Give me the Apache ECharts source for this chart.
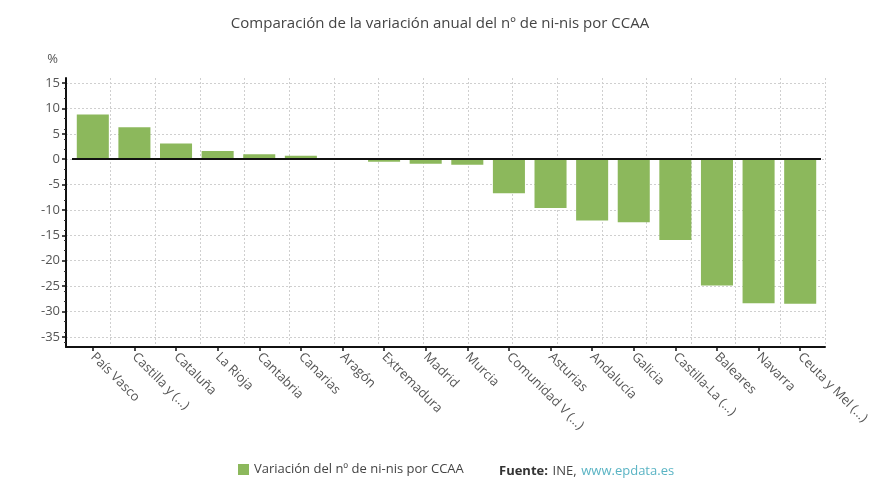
<!DOCTYPE html>
<html><head><meta charset="utf-8">
<script src="https://cdn.jsdelivr.net/npm/echarts@6/dist/echarts.min.js"></script>
<style>html,body{margin:0;padding:0;background:#fff}#c{width:880px;height:495px}</style>
</head><body><div id="c"></div>
<script>
const categories = ['País Vasco','Castilla y (...)','Cataluña','La Rioja','Cantabria','Canarias','Aragón','Extremadura','Madrid','Murcia','Comunidad V (...)','Asturias','Andalucía','Galicia','Castilla-La (...)','Baleares','Navarra','Ceuta y Mel (...)'];
const values = [8.8, 6.3, 3.1, 1.6, 1.0, 0.7, 0.0, -0.5, -0.9, -1.1, -6.7, -9.6, -12.1, -12.4, -15.9, -24.9, -28.4, -28.5];
const yTicks = [15, 10, 5, 0, -5, -10, -15, -20, -25, -30, -35];
const seriesName = 'Variación del nº de ni-nis por CCAA';
const FONT = 'Open Sans';
const GREEN = '#8cb85c';

const chart = echarts.init(document.getElementById('c'));
chart.setOption({
  animation: false,
  textStyle: { fontFamily: FONT },
  title: [
    { text: 'Comparación de la variación anual del nº de ni-nis por CCAA', left: 'center', top: 11,
      textStyle: { fontFamily: FONT, fontSize: 15, fontWeight: 'normal', color: '#444' } },
    { text: '{b|Fuente:} {n|INE,} {l|www.epdata.es}', left: 494, top: 457,
      textStyle: { fontFamily: FONT, fontWeight: 'normal', rich: {
        b: { fontWeight: 'bold', fontSize: 13, color: '#333', fontFamily: FONT },
        n: { fontWeight: 'normal', fontSize: 13, color: '#444', fontFamily: FONT },
        l: { fontWeight: 'normal', fontSize: 13, color: '#5ab4c4', fontFamily: FONT } } } }
  ],
  legend: {
    data: [seriesName], left: 233, top: 458, icon: 'rect', itemWidth: 11, itemHeight: 11, itemGap: 5,
    textStyle: { fontFamily: FONT, fontSize: 13, color: '#444' }
  },
  grid: [
    { left: 66, right: 55, top: 78, bottom: 148 },
    { left: 72, right: 59, top: 78, bottom: 148 }
  ],
  xAxis: [
    { type: 'value', gridIndex: 0, min: 0, max: 17, interval: 1,
      axisLabel: { show: false }, axisTick: { show: false },
      axisLine: { show: true, onZero: false, lineStyle: { color: '#111', width: 2 } },
      splitLine: { show: true, lineStyle: { type: [2, 2], color: '#cfcfcf', width: 1 } } },
    { type: 'category', gridIndex: 1, data: categories, position: 'bottom',
      axisLine: { show: false, onZero: false },
      axisTick: { show: true, alignWithLabel: true, length: 4, lineStyle: { color: '#111', width: 1.5 } },
      axisLabel: { rotate: -45, interval: 0, fontFamily: FONT, fontSize: 13, color: '#555', margin: 8 },
      splitLine: { show: false } }
  ],
  yAxis: [
    { type: 'value', gridIndex: 0, min: -37, max: 16, name: '%', nameLocation: 'end', nameGap: 12,
      nameTextStyle: { fontFamily: FONT, fontSize: 13, color: '#555', align: 'right', padding: [0, 8, 0, 0] },
      axisLine: { show: true, lineStyle: { color: '#111', width: 2 } },
      axisTick: { show: true, length: 4, customValues: yTicks, lineStyle: { color: '#111', width: 1.5 } },
      minorTick: { show: true, splitNumber: 5, length: 2, lineStyle: { color: '#333' } },
      axisLabel: { customValues: yTicks, fontFamily: FONT, fontSize: 13, color: '#555', margin: 6 },
      splitLine: { show: true, lineStyle: { type: [2, 2], color: '#cfcfcf', width: 1 } } },
    { type: 'value', gridIndex: 1, min: -37, max: 16, show: false, splitLine: { show: false } }
  ],
  series: [{
    name: seriesName, type: 'bar', xAxisIndex: 1, yAxisIndex: 1, data: values,
    barCategoryGap: '23%', itemStyle: { color: GREEN },
    markLine: { silent: true, symbol: 'none', label: { show: false },
      lineStyle: { color: '#111', width: 2, type: 'solid' }, data: [{ yAxis: 0 }] }
  }]
});
</script></body></html>
